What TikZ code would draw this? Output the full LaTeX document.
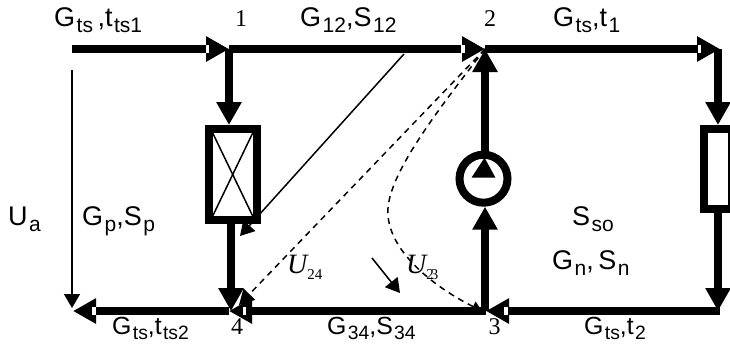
\documentclass[tikz,border=0pt]{standalone}
\usepackage{fontspec}
\setmainfont{Liberation Sans}
\newfontfamily\timesfont{Liberation Serif}
\usetikzlibrary{arrows.meta,positioning}
\newcommand{\lowtxt}[1]{\kern1.5pt\raisebox{-6pt}{\fontsize{21}{21}\selectfont #1}}
\newcommand{\lowval}[1]{\raisebox{-6pt}{\fontsize{15}{15}\selectfont\timesfont\upshape #1}}

\begin{document}
\begin{tikzpicture}[
    x=1pt, y=-1pt,
    wire/.style={line width=8pt, -{Triangle[length=23pt,width=24pt]}},
    thinarrow/.style={line width=1.5pt, -{Triangle[length=14pt,width=16pt]}},
    dasharrow/.style={line width=1.5pt, dash pattern=on 6pt off 5pt, -{Triangle[length=15pt,width=16pt]}},
    element/.style={rectangle, draw, line width=8pt, fill=white, inner sep=0pt},
    gap/.style={rectangle, fill=white, minimum width=3.5pt, minimum height=8pt, inner sep=0pt},
    label/.style={anchor=base west, inner sep=0pt, font=\fontsize{27}{27}\selectfont},
    lowlabel/.style={label, scale=.92},
    number/.style={anchor=base, inner sep=0pt, font=\fontsize{24}{24}\selectfont\timesfont},
    voltage/.style={anchor=base west, inner sep=0pt, font=\fontsize{28}{28}\selectfont\timesfont\itshape}
]
\useasboundingbox (0,0) rectangle (730,349);

% Junctions
\coordinate (n1) at (229,49);
\coordinate (n2) at (485,49);
\coordinate (n3) at (486,311);
\coordinate (n4) at (229,311);
\coordinate (inleft) at (72,49);
\coordinate (outleft) at (73,311);
\coordinate (topright) at (720,49);
\coordinate (botright) at (720,311);
\coordinate (uastart) at (72,70);
\coordinate (uaend) at (72,308);
\coordinate (tap) at (404,54);
\coordinate (tapend) at (240,236);
\coordinate (u24end) at (239,305);
\coordinate (bend) at (388,215);
\coordinate (u23end) at (482,311);
\coordinate (dirstart) at (372,258);
\coordinate (dirend) at (400,293);

% Thin lines under the elements
\draw [thinarrow] (uastart) -- (uaend);
\draw [thinarrow] (tap) -- (tapend);
\draw [thinarrow] (dirstart) -- (dirend);

% Elements
\node [element, minimum width=48pt, minimum height=91pt] (valve) at (232.7,174.5) {};
\node [element, minimum width=28pt, minimum height=80pt] (resistor) at (718,169) {};
\node [circle, draw, line width=8pt, inner sep=0pt, minimum size=48pt] (pump) at (483.5,178.7) {};

% Cross in the valve
\draw [line width=1.5pt] ([shift={(8pt,-8pt)}]valve.north west) -- ([shift={(-8pt,8pt)}]valve.south east);
\draw [line width=1.5pt] ([shift={(-8pt,-8pt)}]valve.north east) -- ([shift={(8pt,8pt)}]valve.south west);

% Triangle in the pump
\fill ([shift={(-12pt,1pt)}]pump.center) -- ([shift={(12pt,1pt)}]pump.center) -- ([shift={(1pt,21pt)}]pump.center) -- cycle;

% Main wires
\draw [wire] (inleft) -- (n1);
\draw [wire] (n1) -- (n2);
\draw [wire] (n2) -- (topright);
\draw [wire] ([xshift=-2pt]topright) -- ([xshift=-2pt]topright |- resistor.north);
\draw [wire] (resistor.south) -- (resistor.south |- botright);
\draw [wire] (botright) -- (n3);
\draw [wire] (n3) -- (n4);
\draw [wire] (n4) -- (outleft);
\draw [wire] (n1) -- (n1 |- valve.north);
\draw [wire] ([xshift=2pt]n4 |- valve.south) -- ([xshift=2pt]n4);
\draw [wire] (n3 -| n2) -- (n2 |- pump.south);
\draw [wire] (n2 |- pump.north) -- (n2);

% Notches in the heads
\node [gap] (gap1) at (207.5,49) {};
\node [gap] (gap2) at (463,49) {};
\node [gap] (gap3) at (699.5,49) {};
\node [gap] (gap4) at (506,311) {};
\node [gap] (gap5) at (244.5,311) {};
\node [gap] (gap6) at (94,311) {};

% Dashed voltages
\draw [dasharrow] (n2) -- (u24end);
\draw [dasharrow, -{Triangle[length=10pt,width=11pt]}] (n2) .. controls (430,120) and (385,180) .. (bend) .. controls (390,250) and (430,285) .. (u23end);

% Junction numbers
\node [number] (num1) at (241,26) {1};
\node [number] (num2) at (490,26) {2};
\node [number] (num3) at (494.5,334) {3};
\node [number] (num4) at (237,334) {4};

% Labels
\node [label] (inlabel) at (54,26) {G\lowtxt{ts}\,,t\lowtxt{ts1}};
\node [label] (pipe12) at (300,26) {G\lowtxt{12},S\lowtxt{12}};
\node [label] (outlabel) at (553,26) {G\lowtxt{ts},t\lowtxt{1}};
\node [label] (ualabel) at (8,225) {U\lowtxt{a}};
\node [label] (pipep) at (82,225) {G\lowtxt{p},S\lowtxt{p}};
\node [lowlabel] (retlabel) at (112,334) {G\lowtxt{ts},t\lowtxt{ts2}};
\node [lowlabel] (pipe34) at (327,334) {G\lowtxt{34},S\lowtxt{34}};
\node [lowlabel] (backlabel) at (584,334) {G\lowtxt{ts},t\lowtxt{2}};
\node [label] (solabel) at (572,225) {S\lowtxt{so}};
\node [label] (pipen) at (552,269) {G\lowtxt{n},\,S\lowtxt{n}};

% Voltage labels
\node [voltage] (u24) at (287,273) {U\lowval{24}};
\node [voltage] (u23) at (406,273) {U\lowval{2\kern-3pt 3}};

\end{tikzpicture}
\end{document}
